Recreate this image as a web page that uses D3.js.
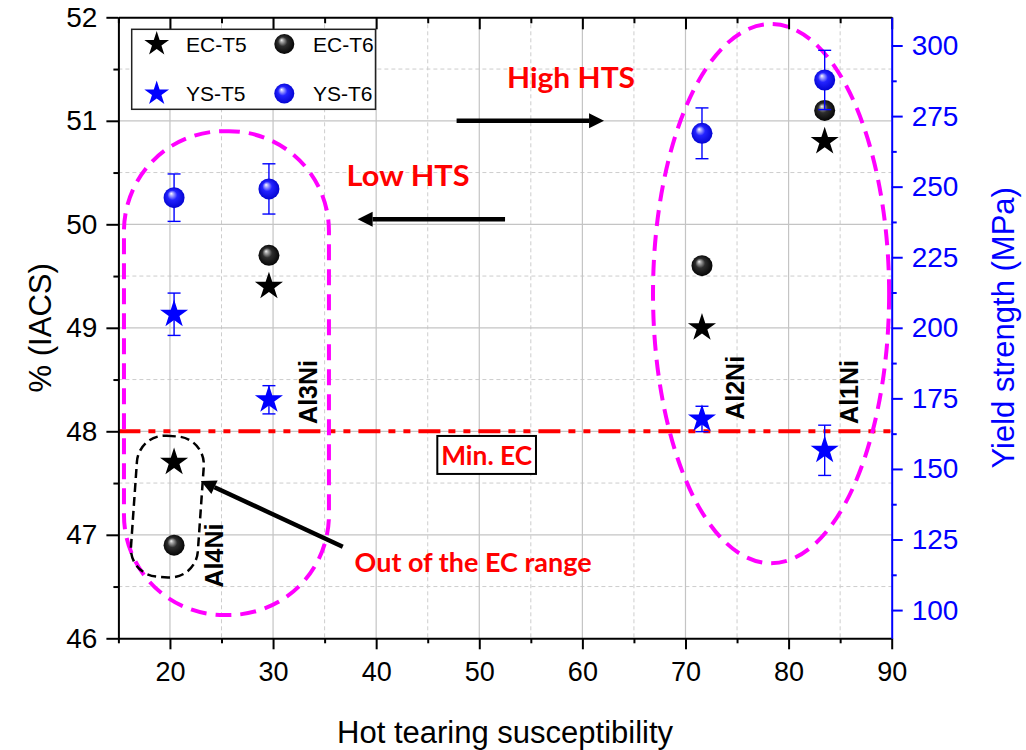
<!DOCTYPE html>
<html>
<head>
<meta charset="utf-8">
<script src="https://cdn.jsdelivr.net/npm/d3@7"></script>
<style>
  html, body { margin: 0; padding: 0; background: #fff; }
  svg { display: block; }
</style>
</head>
<body>
<svg id="chart" width="1026" height="750"></svg>
<script>
// ---- data ----
const alloys  = ["Al4Ni", "Al3Ni", "Al2Ni", "Al1Ni"];
const hts     = [20.4, 29.6, 71.6, 83.5];          // hot tearing susceptibility
const ecT5    = [47.7, 49.4, 49.0, 50.8];          // % IACS, T5 temper
const ecT6    = [46.9, 49.7, 49.6, 51.1];          // % IACS, T6 temper
const ysT5    = [204.8, 174.5, 167.7, 156.6];      // MPa, T5 temper
const ysT5Err = [7.5, 5.0, 4.5, 8.9];
const ysT6    = [246.1, 249.2, 268.9, 287.8];      // MPa, T6 temper
const ysT6Err = [8.4, 8.9, 9.0, 10.5];
const minEC   = 48;

const xTicks  = [20, 30, 40, 50, 60, 70, 80, 90];
const ecTicks = [46, 47, 48, 49, 50, 51, 52];
const ysTicks = [100, 125, 150, 175, 200, 225, 250, 275, 300];

const xMinor  = [15, 25, 35, 45, 55, 65, 75, 85];
const ecMinor = [46.5, 47.5, 48.5, 49.5, 50.5, 51.5];
const ysMinor = [112.5, 137.5, 162.5, 187.5, 212.5, 237.5, 262.5, 287.5];

// ---- layout ----
const svg = d3.select("#chart");
const pL = 118.4, pR = 891.7, pT = 17.3, pB = 638.3;

const x  = d3.scaleLinear().domain([15, 90]).range([pL, pR]);
const yL = d3.scaleLinear().domain([46, 52]).range([pB, pT]);
const yR = d3.scaleLinear().domain([90, 310]).range([pB, pT]);

const AXIS_FONT = "'Liberation Sans', Arial, sans-serif";
const NOTE_FONT = "Lato, 'Open Sans', sans-serif";
const BLUE = "#0000ff";
const MAGENTA = "#ff00ff";
const RED = "#ff0000";

// ---- defs: sphere shading ----
const defs = svg.append("defs");
function sphereGrad(id, stops) {
  const g = defs.append("radialGradient").attr("id", id)
    .attr("cx", "50%").attr("cy", "50%").attr("r", "55%")
    .attr("fx", "36%").attr("fy", "30%");
  stops.forEach(([o, c]) => g.append("stop").attr("offset", o).attr("stop-color", c));
}
sphereGrad("sphereBlack", [["0%", "#f4f4f4"], ["14%", "#a8a8a8"], ["42%", "#2e2e2e"], ["100%", "#000"]]);
sphereGrad("sphereBlue",  [["0%", "#ffffff"], ["14%", "#b0b0ff"], ["42%", "#2323ff"], ["100%", "#0000cc"]]);

// ---- grid ----
const grid = svg.append("g");
grid.selectAll(".gxm").data(xMinor.filter(v => v > 15)).join("line")
  .attr("x1", d => x(d)).attr("x2", d => x(d)).attr("y1", pT).attr("y2", pB)
  .attr("stroke", "#cdcdcd").attr("stroke-width", 1).attr("stroke-dasharray", "4,3");
grid.selectAll(".gym").data(ecMinor).join("line")
  .attr("y1", d => yL(d)).attr("y2", d => yL(d)).attr("x1", pL).attr("x2", pR)
  .attr("stroke", "#cdcdcd").attr("stroke-width", 1).attr("stroke-dasharray", "4,3");
grid.selectAll(".gx").data(xTicks.filter(v => v < 90)).join("line")
  .attr("x1", d => x(d)).attr("x2", d => x(d)).attr("y1", pT).attr("y2", pB)
  .attr("stroke", "#c4c4c4").attr("stroke-width", 1.2);
grid.selectAll(".gy").data(ecTicks.filter(v => v > 46 && v < 52)).join("line")
  .attr("y1", d => yL(d)).attr("y2", d => yL(d)).attr("x1", pL).attr("x2", pR)
  .attr("stroke", "#c4c4c4").attr("stroke-width", 1.2);

// ---- minimum EC reference line ----
svg.append("line")
  .attr("x1", pL).attr("x2", pR).attr("y1", yL(minEC)).attr("y2", yL(minEC))
  .attr("stroke", RED).attr("stroke-width", 4)
  .attr("stroke-dasharray", "22,8,7,8,7,8");

// ---- grouping outlines ----
const notes = svg.append("g");
// low-HTS group
const lowBox = { x0: 15.54, x1: 35.42, y0: 46.225, y1: 50.90 };
notes.append("rect")
  .attr("x", x(lowBox.x0)).attr("y", yL(lowBox.y1))
  .attr("width", x(lowBox.x1) - x(lowBox.x0)).attr("height", yL(lowBox.y0) - yL(lowBox.y1))
  .attr("rx", 100).attr("ry", 100)
  .attr("fill", "none").attr("stroke", MAGENTA).attr("stroke-width", 4)
  .attr("stroke-dasharray", "16,9");
// high-HTS group
const highEll = { cx: 78.3, cy: 49.33, hx: 11.45, hy: 2.605 };
notes.append("ellipse")
  .attr("cx", x(highEll.cx)).attr("cy", yL(highEll.cy))
  .attr("rx", x(highEll.cx + highEll.hx) - x(highEll.cx))
  .attr("ry", yL(highEll.cy - highEll.hy) - yL(highEll.cy))
  .attr("fill", "none").attr("stroke", MAGENTA).attr("stroke-width", 4)
  .attr("stroke-dasharray", "16,9");
// out-of-range group
const outBox = { x0: 16.5, x1: 23.0, y0: 46.59, y1: 47.955 };
notes.append("rect")
  .attr("x", x(outBox.x0)).attr("y", yL(outBox.y1))
  .attr("width", x(outBox.x1) - x(outBox.x0)).attr("height", yL(outBox.y0) - yL(outBox.y1))
  .attr("rx", 28).attr("ry", 28)
  .attr("transform", `rotate(4 ${x((outBox.x0 + outBox.x1) / 2)} ${yL((outBox.y0 + outBox.y1) / 2)})`)
  .attr("fill", "none").attr("stroke", "#000").attr("stroke-width", 2.5)
  .attr("stroke-dasharray", "9,5");

// ---- arrows ----
function arrow(x1, y1, x2, y2) {
  const px1 = x(x1), py1 = yL(y1), px2 = x(x2), py2 = yL(y2);
  const ang = Math.atan2(py2 - py1, px2 - px1);
  const L = 15, H = 7.5;
  const bx = px2 - L * Math.cos(ang), by = py2 - L * Math.sin(ang);
  notes.append("line").attr("x1", px1).attr("y1", py1).attr("x2", bx).attr("y2", by)
    .attr("stroke", "#000").attr("stroke-width", 4.5);
  const nx = -Math.sin(ang) * H, ny = Math.cos(ang) * H;
  notes.append("path")
    .attr("d", `M${px2},${py2}L${bx + nx},${by + ny}L${bx - nx},${by - ny}Z`)
    .attr("fill", "#000");
}
arrow(47.8, 51.0, 62.1, 51.0);
arrow(52.5, 50.05, 38.2, 50.05);
arrow(36.76, 46.885, 23.0, 47.52);

// ---- annotation text ----
function note(text, cx, base, size, len) {
  notes.append("text").attr("x", x(cx)).attr("y", yL(base))
    .attr("text-anchor", "middle")
    .attr("font-family", NOTE_FONT).attr("font-weight", 700)
    .attr("font-size", size).attr("fill", RED)
    .attr("textLength", len).attr("lengthAdjust", "spacingAndGlyphs")
    .text(text);
}
note("High HTS", 58.9, 51.32, 28, 128);
note("Low HTS", 43.1, 50.37, 28, 123);
note("Out of the EC range", 49.4, 46.64, 26, 237);

const ecBox = { x0: 45.93, x1: 55.5, y0: 47.588, y1: 47.955 };
notes.append("rect")
  .attr("x", x(ecBox.x0)).attr("y", yL(ecBox.y1))
  .attr("width", x(ecBox.x1) - x(ecBox.x0)).attr("height", yL(ecBox.y0) - yL(ecBox.y1))
  .attr("fill", "#fff").attr("stroke", "#000").attr("stroke-width", 2);
note("Min. EC", 50.72, 47.674, 26, 91);

// rotated alloy labels
const labelX = [24.3, 33.35, 74.85, 85.85];
const labelY = [46.8, 48.38, 48.42, 48.38];
notes.selectAll(".alloy").data(alloys).join("text")
  .attr("transform", (d, i) => `translate(${x(labelX[i])},${yL(labelY[i])}) rotate(-90)`)
  .attr("text-anchor", "middle").attr("dy", "0.36em")
  .attr("font-family", AXIS_FONT).attr("font-weight", 700)
  .attr("font-size", 25).attr("fill", "#000")
  .text(d => d);

// ---- markers ----
const starBig = d3.symbol().type(d3.symbolStar).size(245)();
const starLeg = d3.symbol().type(d3.symbolStar).size(190)();
const marks = svg.append("g");

marks.selectAll(".ec5").data(hts).join("path")
  .attr("d", starBig).attr("transform", (d, i) => `translate(${x(d)},${yL(ecT5[i])})`)
  .attr("fill", "#000");

marks.selectAll(".ec6").data(hts).join("circle")
  .attr("cx", d => x(d)).attr("cy", (d, i) => yL(ecT6[i])).attr("r", 10.5)
  .attr("fill", "url(#sphereBlack)");

function errBars(vals, errs) {
  const g = marks.append("g").attr("stroke", BLUE).attr("stroke-width", 1.4).attr("fill", "none");
  hts.forEach((h, i) => {
    const cx = x(h), ya = yR(vals[i] + errs[i]), yb = yR(vals[i] - errs[i]);
    g.append("line").attr("x1", cx).attr("x2", cx).attr("y1", ya).attr("y2", yb);
    g.append("line").attr("x1", cx - 6.5).attr("x2", cx + 6.5).attr("y1", ya).attr("y2", ya);
    g.append("line").attr("x1", cx - 6.5).attr("x2", cx + 6.5).attr("y1", yb).attr("y2", yb);
  });
}
errBars(ysT5, ysT5Err);
marks.selectAll(".ys5").data(hts).join("path")
  .attr("d", starBig).attr("transform", (d, i) => `translate(${x(d)},${yR(ysT5[i])})`)
  .attr("fill", BLUE);

errBars(ysT6, ysT6Err);
marks.selectAll(".ys6").data(hts).join("circle")
  .attr("cx", d => x(d)).attr("cy", (d, i) => yR(ysT6[i])).attr("r", 10.5)
  .attr("fill", "url(#sphereBlue)");

// ---- axes ----
function styleAxis(g, color, size) {
  g.selectAll("path.domain").attr("stroke", color).attr("stroke-width", 2);
  g.selectAll(".tick line").attr("stroke", color).attr("stroke-width", 2);
  g.selectAll(".tick text").attr("fill", color)
    .attr("font-family", AXIS_FONT).attr("font-size", size);
}
const intFmt = d3.format("d");

// bottom
const gB = svg.append("g").attr("transform", `translate(0,${pB})`)
  .call(d3.axisBottom(x).tickValues(xTicks).tickFormat(intFmt)
    .tickSize(11).tickSizeOuter(0).tickPadding(13));
styleAxis(gB, "#000", 27);
const gBm = svg.append("g").attr("transform", `translate(0,${pB})`)
  .call(d3.axisBottom(x).tickValues(xMinor).tickSize(5).tickFormat(""));
gBm.select("path.domain").remove();
styleAxis(gBm, "#000", 27);

// top (ticks inward)
const gT = svg.append("g").attr("transform", `translate(0,${pT})`)
  .call(d3.axisBottom(x).tickValues(xTicks).tickSize(12).tickSizeOuter(0).tickFormat(""));
styleAxis(gT, "#000", 27);
const gTm = svg.append("g").attr("transform", `translate(0,${pT})`)
  .call(d3.axisBottom(x).tickValues(xMinor).tickSize(6).tickFormat(""));
gTm.select("path.domain").remove();
styleAxis(gTm, "#000", 27);

// left
const gL = svg.append("g").attr("transform", `translate(${pL},0)`)
  .call(d3.axisLeft(yL).tickValues(ecTicks).tickFormat(intFmt)
    .tickSize(12).tickSizeOuter(0).tickPadding(9));
styleAxis(gL, "#000", 28);
const gLm = svg.append("g").attr("transform", `translate(${pL},0)`)
  .call(d3.axisLeft(yL).tickValues(ecMinor).tickSize(5).tickFormat(""));
gLm.select("path.domain").remove();
styleAxis(gLm, "#000", 28);

// right
const gR = svg.append("g").attr("transform", `translate(${pR},0)`)
  .call(d3.axisRight(yR).tickValues(ysTicks).tickFormat(intFmt)
    .tickSize(11).tickSizeOuter(0).tickPadding(9));
styleAxis(gR, BLUE, 28);
const gRm = svg.append("g").attr("transform", `translate(${pR},0)`)
  .call(d3.axisRight(yR).tickValues(ysMinor).tickSize(5).tickFormat(""));
gRm.select("path.domain").remove();
styleAxis(gRm, BLUE, 28);

// axis titles
svg.append("text")
  .attr("x", (pL + pR) / 2).attr("y", 743)
  .attr("text-anchor", "middle").attr("font-family", AXIS_FONT).attr("font-size", 31)
  .attr("fill", "#000").text("Hot tearing susceptibility");
svg.append("text")
  .attr("transform", `translate(40,${(pT + pB) / 2}) rotate(-90)`)
  .attr("text-anchor", "middle").attr("dy", "0.36em")
  .attr("font-family", AXIS_FONT).attr("font-size", 31)
  .attr("fill", "#000").text("% (IACS)");
svg.append("text")
  .attr("transform", `translate(1003,${(pT + pB) / 2}) rotate(-90)`)
  .attr("text-anchor", "middle").attr("dy", "0.36em")
  .attr("font-family", AXIS_FONT).attr("font-size", 31)
  .attr("fill", BLUE).text("Yield strength (MPa)");

// ---- legend ----
const leg = svg.append("g");
leg.append("rect").attr("x", 131.7).attr("y", 29.3).attr("width", 243.8).attr("height", 80)
  .attr("fill", "#fff").attr("stroke", "#222").attr("stroke-width", 1.5);
const legendItems = [
  { label: "EC-T5", kind: "star",   fill: "#000", col: 0, row: 0 },
  { label: "EC-T6", kind: "sphere", fill: "url(#sphereBlack)", col: 1, row: 0 },
  { label: "YS-T5", kind: "star",   fill: BLUE,   col: 0, row: 1 },
  { label: "YS-T6", kind: "sphere", fill: "url(#sphereBlue)", col: 1, row: 1 }
];
legendItems.forEach(it => {
  const mx = it.col === 0 ? 156.7 : 284.3;
  const tx = it.col === 0 ? 186 : 313;
  const my = it.row === 0 ? 44 : 93.5;
  if (it.kind === "star") {
    leg.append("path").attr("d", starLeg).attr("transform", `translate(${mx},${my})`).attr("fill", it.fill);
  } else {
    leg.append("circle").attr("cx", mx).attr("cy", my).attr("r", 10).attr("fill", it.fill);
  }
  leg.append("text").attr("x", tx).attr("y", my).attr("dy", "0.36em")
    .attr("font-family", AXIS_FONT).attr("font-size", 21).attr("fill", "#000")
    .text(it.label);
});
</script>
</body>
</html>
